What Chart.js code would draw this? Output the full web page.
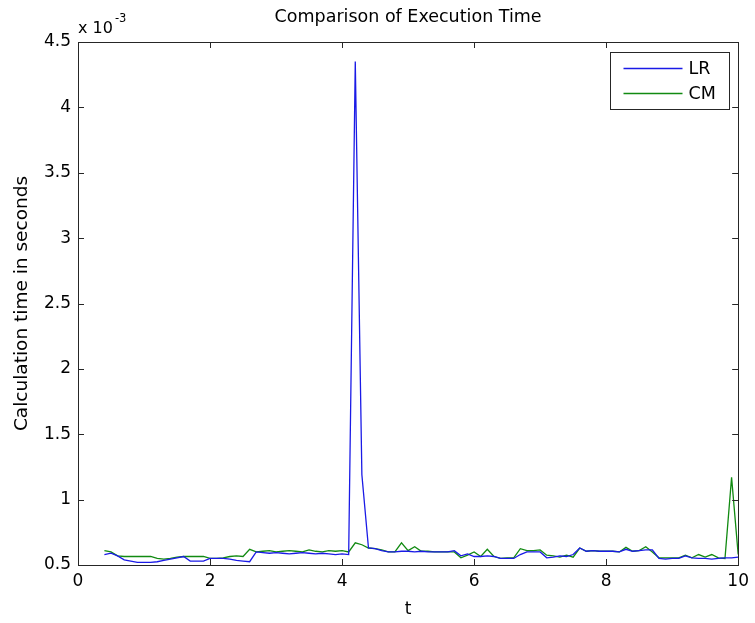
<!DOCTYPE html>
<html>
<head>
<meta charset="utf-8">
<script src="https://cdn.jsdelivr.net/npm/chart.js@4.4.1/dist/chart.umd.min.js"></script>
<style>
  html, body { margin: 0; padding: 0; background: #ffffff; }
  canvas { display: block; }
</style>
</head>
<body>
<canvas id="c" width="755" height="623"></canvas>
<script>
// ---- data (values in units of 10^-3 seconds) ----
const tValues = [0.4,0.5,0.6,0.7,0.8,0.9,1.0,1.1,1.2,1.3,1.4,1.5,1.6,1.7,1.8,1.9,
  2.0,2.1,2.2,2.3,2.4,2.5,2.6,2.7,2.8,2.9,3.0,3.1,3.2,3.3,3.4,3.5,3.6,3.7,3.8,3.9,
  4.0,4.1,4.2,4.3,4.4,4.5,4.6,4.7,4.8,4.9,5.0,5.1,5.2,5.3,5.4,5.5,5.6,5.7,5.8,5.9,
  6.0,6.1,6.2,6.3,6.4,6.5,6.6,6.7,6.8,6.9,7.0,7.1,7.2,7.3,7.4,7.5,7.6,7.7,7.8,7.9,
  8.0,8.1,8.2,8.3,8.4,8.5,8.6,8.7,8.8,8.9,9.0,9.1,9.2,9.3,9.4,9.5,9.6,9.7,9.8,9.9,10.0];

const lrTimes = [0.58,0.59,0.57,0.54,0.53,0.52,0.52,0.52,0.525,0.535,0.545,0.555,0.565,0.53,0.53,0.53,
  0.55,0.55,0.55,0.545,0.535,0.53,0.525,0.60,0.595,0.59,0.595,0.59,0.585,0.59,0.595,0.59,0.585,0.59,0.585,0.58,
  0.585,0.58,4.35,1.19,0.63,0.625,0.61,0.60,0.60,0.605,0.605,0.60,0.605,0.60,0.60,0.60,0.60,0.61,0.57,0.585,
  0.565,0.565,0.57,0.565,0.55,0.55,0.55,0.58,0.60,0.60,0.60,0.555,0.56,0.57,0.565,0.58,0.63,0.605,0.61,0.605,
  0.605,0.605,0.60,0.62,0.605,0.61,0.615,0.615,0.55,0.545,0.55,0.55,0.57,0.555,0.55,0.55,0.545,0.55,0.555,0.555,0.56];

const cmTimes = [0.61,0.60,0.57,0.565,0.565,0.565,0.565,0.565,0.55,0.545,0.55,0.56,0.565,0.565,0.565,0.565,
  0.55,0.55,0.555,0.565,0.57,0.565,0.62,0.60,0.605,0.61,0.60,0.605,0.61,0.605,0.60,0.615,0.605,0.60,0.61,0.605,
  0.61,0.60,0.67,0.655,0.63,0.625,0.615,0.60,0.60,0.67,0.61,0.64,0.605,0.605,0.60,0.60,0.60,0.60,0.555,0.575,
  0.60,0.565,0.62,0.565,0.55,0.555,0.555,0.625,0.61,0.61,0.615,0.575,0.57,0.56,0.575,0.56,0.63,0.605,0.61,0.605,
  0.605,0.605,0.60,0.635,0.605,0.61,0.64,0.60,0.555,0.555,0.555,0.555,0.575,0.555,0.58,0.56,0.58,0.555,0.55,1.17,0.58];

const seriesNames = ['LR', 'CM'];
const xTickLabels = ['0', '2', '4', '6', '8', '10'];
const yTickLabels = ['0.5', '1', '1.5', '2', '2.5', '3', '3.5', '4', '4.5'];
const titleText = 'Comparison of Execution Time';
const xTitle = 't';
const yTitle = 'Calculation time in seconds';
const exponentBase = 'x 10';
const exponentPower = '-3';

// ---- helpers ----
const FONT = 'DejaVu Sans';
const AXIS_COLOR = '#262626';
const toPoints = (xs, ys) => xs.map((x, i) => ({ x: x, y: ys[i] }));

const matlabFrame = {
  id: 'matlabFrame',
  beforeDraw(chart) {
    const ctx = chart.ctx;
    ctx.save();
    ctx.fillStyle = '#ffffff';
    ctx.fillRect(0, 0, chart.width, chart.height);
    ctx.restore();
  },
  afterDraw(chart) {
    const ctx = chart.ctx;
    const a = chart.chartArea;
    const xs = chart.scales.x, ys = chart.scales.y;
    ctx.save();
    // title centred over the axes
    ctx.fillStyle = '#000';
    ctx.textAlign = 'center';
    ctx.textBaseline = 'middle';
    ctx.font = '17.5px "' + FONT + '"';
    ctx.fillText(titleText, (a.left + a.right) / 2, a.top - 25);

    // box
    ctx.strokeStyle = AXIS_COLOR;
    ctx.lineWidth = 1;
    ctx.strokeRect(Math.round(a.left) + 0.5, Math.round(a.top) + 0.5,
                   Math.round(a.right - a.left), Math.round(a.bottom - a.top));
    // inward ticks
    const TL = 6;
    ctx.beginPath();
    xs.ticks.forEach(t => {
      const px = Math.round(xs.getPixelForValue(t.value)) + 0.5;
      ctx.moveTo(px, a.bottom); ctx.lineTo(px, a.bottom - TL);
      ctx.moveTo(px, a.top); ctx.lineTo(px, a.top + TL);
    });
    ys.ticks.forEach(t => {
      const py = Math.round(ys.getPixelForValue(t.value)) + 0.5;
      ctx.moveTo(a.left, py); ctx.lineTo(a.left + TL, py);
      ctx.moveTo(a.right, py); ctx.lineTo(a.right - TL, py);
    });
    ctx.stroke();

    // exponent label
    ctx.fillStyle = '#000';
    ctx.textBaseline = 'alphabetic';
    ctx.textAlign = 'left';
    ctx.font = '16px "' + FONT + '"';
    ctx.fillText(exponentBase, a.left, a.top - 9);
    const w = ctx.measureText(exponentBase).width;
    ctx.font = '11.5px "' + FONT + '"';
    ctx.fillText(exponentPower, a.left + w + 2, a.top - 20);

    // legend
    const boxW = 119, boxH = 57;
    const bx = Math.round(a.right - 9 - boxW) + 0.5;
    const by = Math.round(a.top + 10) + 0.5;
    ctx.fillStyle = '#ffffff';
    ctx.fillRect(bx, by, boxW, boxH);
    ctx.strokeStyle = AXIS_COLOR;
    ctx.strokeRect(bx, by, boxW, boxH);
    ctx.font = '17.5px "' + FONT + '"';
    ctx.textBaseline = 'middle';
    chart.data.datasets.forEach((ds, i) => {
      const ly = by + 16 + i * 25;
      ctx.strokeStyle = ds.borderColor;
      ctx.lineWidth = 1.3;
      ctx.beginPath();
      ctx.moveTo(bx + 13, ly); ctx.lineTo(bx + 72, ly);
      ctx.stroke();
      ctx.fillStyle = '#000';
      ctx.fillText(ds.label, bx + 78, ly + 1);
    });
    ctx.restore();
  }
};

new Chart(document.getElementById('c'), {
  type: 'line',
  data: {
    datasets: [
      { label: seriesNames[0], data: toPoints(tValues, lrTimes), borderColor: '#1a1ae6',
        borderWidth: 1.3, pointRadius: 0, tension: 0, fill: false },
      { label: seriesNames[1], data: toPoints(tValues, cmTimes), borderColor: '#118a11',
        borderWidth: 1.3, pointRadius: 0, tension: 0, fill: false }
    ]
  },
  options: {
    responsive: false,
    animation: false,
    devicePixelRatio: 1,
    layout: { padding: { left: 8, right: 15, top: 42, bottom: 0 } },
    plugins: {
      legend: { display: false },
      tooltip: { enabled: false },
      title: { display: false }
    },
    scales: {
      x: {
        type: 'linear', min: 0, max: 10,
        grid: { display: false, drawTicks: false },
        border: { display: false },
        ticks: {
          stepSize: 2, color: '#000', padding: 6, maxRotation: 0,
          font: { family: FONT, size: 17 },
          callback: (v, i) => xTickLabels[i]
        },
        title: { display: true, text: xTitle, color: '#000',
          font: { family: FONT, size: 17 }, padding: { top: 0, bottom: 3 } },
        afterFit: s => { s.height = 58; }
      },
      y: {
        type: 'linear', min: 0.5, max: 4.5,
        grid: { display: false, drawTicks: false },
        border: { display: false },
        ticks: {
          stepSize: 0.5, color: '#000', padding: 7,
          font: { family: FONT, size: 17 },
          callback: (v, i) => yTickLabels[i]
        },
        title: { display: true, text: yTitle, color: '#000',
          font: { family: FONT, size: 18.5 }, padding: { top: 3, bottom: 0 } },
        afterFit: s => { s.width = 70; }
      }
    }
  },
  plugins: [matlabFrame]
});
</script>
</body>
</html>
